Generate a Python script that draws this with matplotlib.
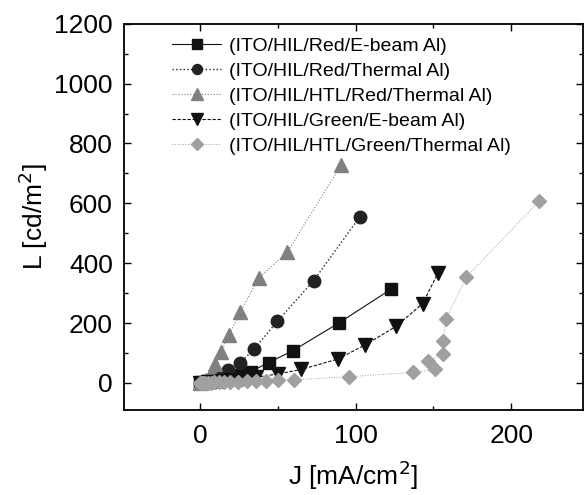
import matplotlib
matplotlib.use("Agg")
import matplotlib.pyplot as plt
from matplotlib.ticker import MultipleLocator

plt.rcParams['font.family'] = ['Liberation Sans', 'DejaVu Sans']

# J [mA/cm2] and L [cd/m2] for each device stack
red_ebeam_j = [0, 1, 2, 4, 6, 9, 13, 18, 24, 32.5, 44, 59.7, 89, 123]
red_ebeam_l = [0, 0, 1, 2, 4, 7, 12, 19, 27, 38, 68, 108, 200, 314]

red_thermal_j = [0, 1, 2, 4, 7, 11, 18, 25.6, 34.5, 49.6, 73, 102.6]
red_thermal_l = [0, 1, 2, 4, 9, 20, 44, 67, 112, 206, 342, 555]

red_htl_j = [0, 1, 2, 3.5, 5.5, 7.5, 9.3, 13.4, 18.5, 25.7, 37.5, 56, 90.8]
red_htl_l = [0, 2, 5, 10, 18, 35, 62, 102, 160, 236, 350, 437, 729]

green_ebeam_j = [0, 2, 5, 9, 14, 20, 27, 36, 50, 65, 88.6, 106, 126, 143, 153]
green_ebeam_l = [0, 1, 2, 4, 6, 9, 13, 19, 30, 45, 80, 127, 189, 265, 368]

green_htl_j = [0, 1, 2, 3, 5, 7, 9, 12, 15, 19, 24, 30, 36, 42, 50, 60, 95.7,
               137, 150.8, 146.5, 156, 156, 158.3, 171, 218]
green_htl_l = [0, 0, 0, 1, 1, 1, 2, 2, 3, 3, 4, 5, 6, 8, 9, 10, 21,
               35, 45, 72, 97, 139, 215, 353, 608]

labels = ['(ITO/HIL/Red/E-beam Al)',
          '(ITO/HIL/Red/Thermal Al)',
          '(ITO/HIL/HTL/Red/Thermal Al)',
          '(ITO/HIL/Green/E-beam Al)',
          '(ITO/HIL/HTL/Green/Thermal Al)']

fig = plt.figure(figsize=(5.88, 4.95), dpi=100)
ax = fig.add_axes([0.211, 0.172, 0.780, 0.780])

ax.plot(red_ebeam_j, red_ebeam_l, '-', marker='s', color='#111111',
        lw=0.8, ms=8.5, label=labels[0])
ax.plot(red_thermal_j, red_thermal_l, ':', marker='o', color='#222222',
        lw=1.0, ms=9, label=labels[1])
ax.plot(red_htl_j, red_htl_l, ':', marker='^', color='#808080',
        lw=0.8, ms=10, label=labels[2])
ax.plot(green_ebeam_j, green_ebeam_l, '--', marker='v', color='#111111',
        lw=0.8, ms=10, label=labels[3], dashes=(3, 1.5))
ax.plot(green_htl_j, green_htl_l, ':', marker='D', color='#a0a0a0',
        lw=0.7, ms=7.5, label=labels[4])

ax.set_xlim(-49, 246)
ax.set_ylim(-90, 1200)
ax.xaxis.set_major_locator(MultipleLocator(100))
ax.xaxis.set_minor_locator(MultipleLocator(50))
ax.yaxis.set_major_locator(MultipleLocator(200))
ax.yaxis.set_minor_locator(MultipleLocator(100))
ax.tick_params(which='both', direction='in', top=True, right=True,
               labelsize=19, width=1.0)
ax.tick_params(which='major', length=5)
ax.tick_params(which='minor', length=3)
ax.tick_params(axis='x', which='major', pad=10)
ax.tick_params(axis='y', which='major', pad=8)
for s in ax.spines.values():
    s.set_linewidth(1.3)

ax.set_xlabel('J [mA/cm$^2$]', fontsize=19, labelpad=8)
ax.set_ylabel('L [cd/m$^2$]', fontsize=19, labelpad=3)

ax.legend(loc='upper left', bbox_to_anchor=(0.08, 0.995), frameon=False,
          fontsize=14, handlelength=2.5, handletextpad=0.4,
          labelspacing=0.38, borderaxespad=0.2, markerscale=0.8)

fig.savefig('out.png', dpi=100)
